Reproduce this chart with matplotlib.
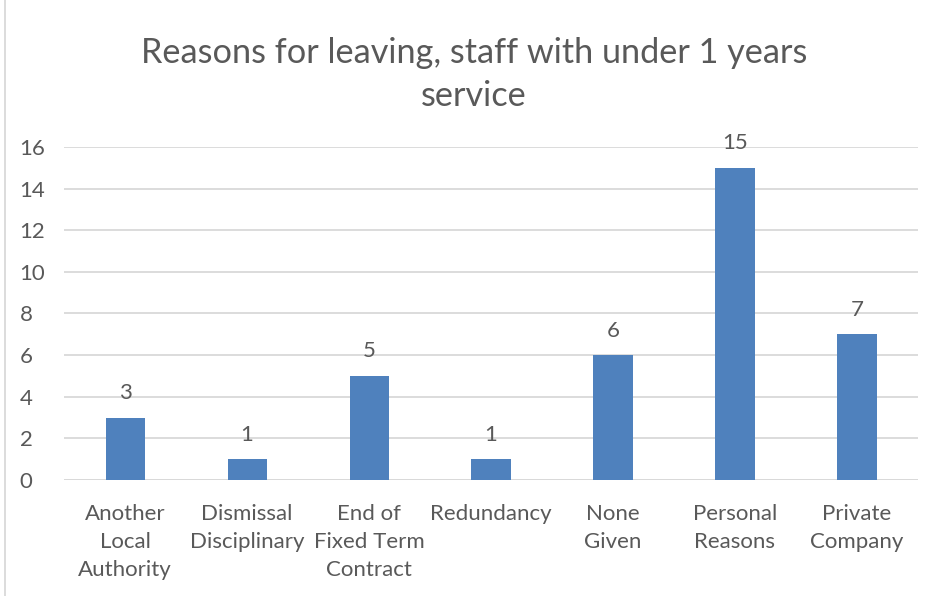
import matplotlib.pyplot as plt
import matplotlib.patches as mpatches

categories = ["Another\nLocal\nAuthority", "Dismissal\nDisciplinary", "End of\nFixed Term\nContract",
              "Redundancy", "None\nGiven", "Personal\nReasons", "Private\nCompany"]
counts = [3, 1, 5, 1, 6, 15, 7]
yticks = [0, 2, 4, 6, 8, 10, 12, 14, 16]

text_col = "#595959"
grid_col = "#D9D9D9"
bar_col = "#4F81BD"

plt.rcParams['font.family'] = ['Lato', 'DejaVu Sans']

fig = plt.figure(figsize=(9.42, 5.96), dpi=100)
ax = fig.add_axes([0.068, 0.1946, 0.9065, 0.5588])

x = range(len(categories))
bars = ax.bar(x, counts, width=0.32, color=bar_col, zorder=3)
for b, v in zip(bars, counts):
    ax.text(b.get_x() + b.get_width() / 2, v + 0.7, str(v), ha='center', va='bottom',
            fontsize=16, color=text_col)

ax.set_xlim(-0.5, len(categories) - 0.5)
ax.set_ylim(0, 16)
ax.set_yticks(yticks)
ax.set_xticks(list(x))
ax.set_xticklabels(categories, linespacing=1.5)
ax.tick_params(axis='both', length=0, labelsize=16, labelcolor=text_col)
ax.tick_params(axis='x', pad=17)
ax.tick_params(axis='y', pad=32)
for lbl in ax.get_yticklabels():
    lbl.set_horizontalalignment('left')
ax.grid(axis='y', color=grid_col, linewidth=1.3, zorder=0)
for s in ax.spines.values():
    s.set_visible(False)
ax.axhline(0, color=grid_col, linewidth=1.3, zorder=2)

fig.text(0.503, 0.875, "Reasons for leaving, staff with under 1 years\nservice", ha='center', va='center',
         fontsize=24.7, color=text_col, linespacing=1.41)

# light frame round the chart area
fig.patches.append(mpatches.Rectangle((0.005, -0.01), 1.0, 1.02, transform=fig.transFigure,
                                      fill=False, edgecolor=grid_col, linewidth=1.3))

fig.savefig("out.png", dpi=100)
